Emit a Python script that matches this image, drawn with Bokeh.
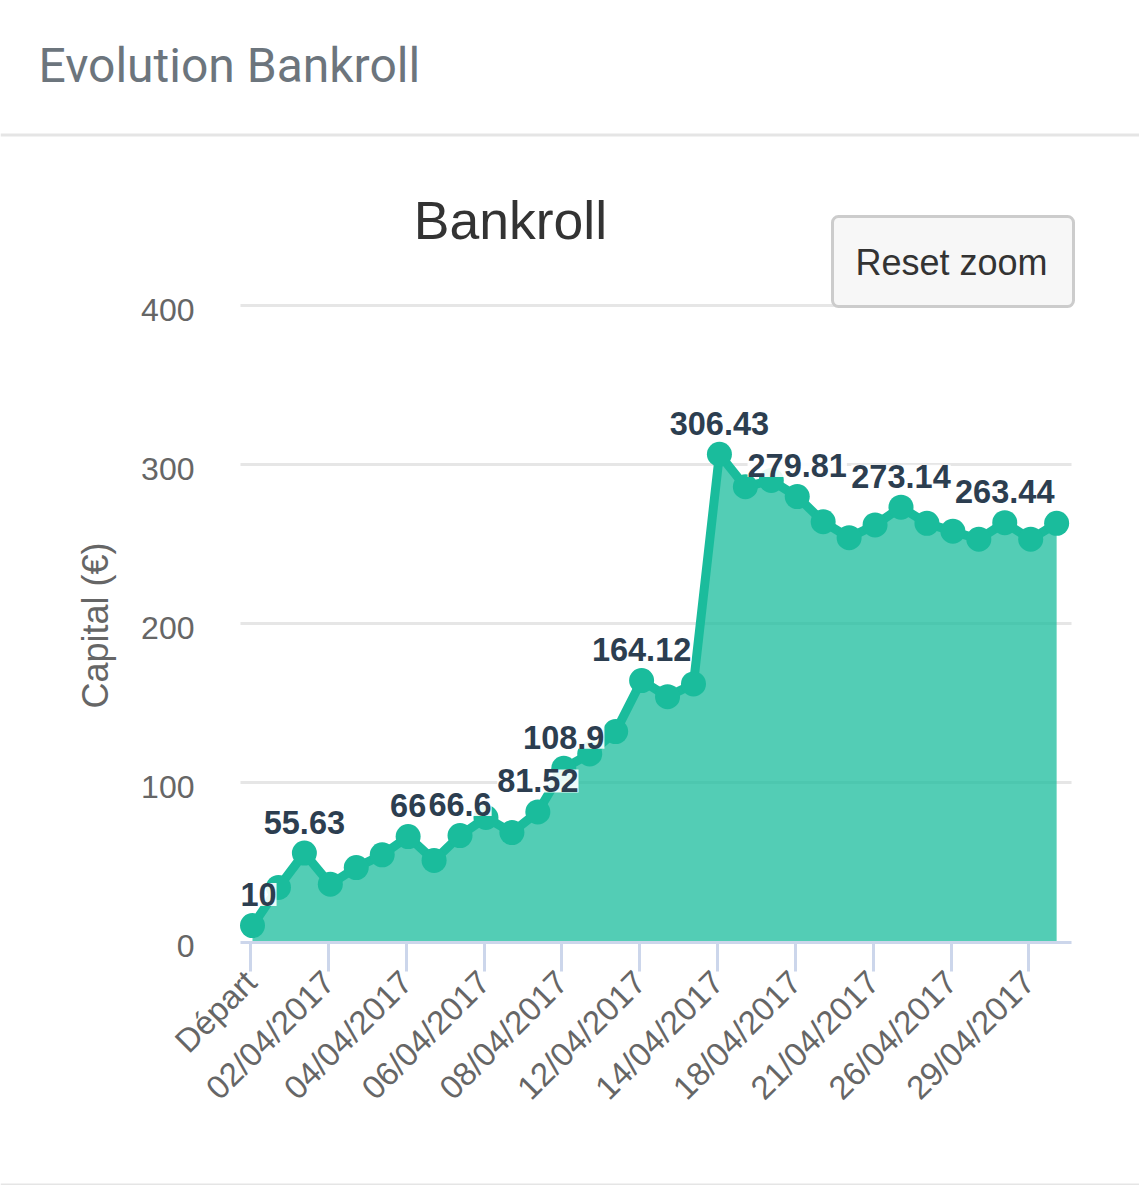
from math import pi
from bokeh.core.properties import value
from bokeh.embed import file_html
from bokeh.resources import INLINE
from bokeh.models import (BoxAnnotation, ColumnDataSource, FixedTicker, Label, LabelSet, LinearAxis, Range1d)
from bokeh.plotting import figure

capital = [10, 34, 55.63, 36, 46.5, 54.5, 66, 51, 66.6, 78, 68.5, 81.52,
           108.9, 118, 132, 164.12, 154, 162, 306.43, 286, 290, 279.81, 264, 254,
           262, 273.14, 263, 258, 253, 263.44, 253, 263]
labelled_points = [0, 2, 6, 8, 11, 12, 15, 18, 21, 25, 29]
label_texts = ["10", "55.63", "66", "66.6", "81.52", "108.9", "164.12",
               "306.43", "279.81", "273.14", "263.44"]
tick_points = [0, 3, 6, 9, 12, 15, 18, 21, 24, 27, 30]
tick_labels = ["Départ", "02/04/2017", "04/04/2017", "06/04/2017", "08/04/2017", "12/04/2017",
               "14/04/2017", "18/04/2017", "21/04/2017", "26/04/2017", "29/04/2017"]
y_ticks = [0, 100, 200, 300, 400]

TEAL = "#1abc9c"
W, H = 1139, 1185
X0_PX, DX_PX = 252.0, 25.94      # pixel of point 0, pixels per point
Y0_PX, DY_PX = 941.0, 1.59       # pixel of value 0, pixels per unit
def sy(py): return H - py

x_left = (240 - X0_PX) / DX_PX
x_right = (1071 - X0_PX) / DX_PX

xs = list(range(len(capital)))
p = figure(width=W, height=H, output_backend="svg", toolbar_location=None,
           x_range=Range1d(-X0_PX / DX_PX, (W - X0_PX) / DX_PX),
           y_range=Range1d((Y0_PX - H) / DY_PX, Y0_PX / DY_PX),
           x_axis_location=None, y_axis_location=None,
           min_border=0, background_fill_color="white", border_fill_color="white")
p.outline_line_color = None
p.grid.visible = False

# horizontal grid lines stop at the plot area, so they are drawn as segments
p.segment(x0=[x_left] * len(y_ticks[1:]), x1=[x_right] * len(y_ticks[1:]), y0=y_ticks[1:], y1=y_ticks[1:],
          line_color="#e6e6e6", line_width=3)

tick_shift = 0.07
shifted = [t - tick_shift for t in tick_points]
xaxis = LinearAxis(fixed_location=-0.6, bounds=(x_left, x_right), ticker=FixedTicker(ticks=shifted))
xaxis.major_label_overrides = {s: l for s, l in zip(shifted, tick_labels)}
xaxis.major_label_orientation = pi / 4
xaxis.axis_line_color = "#ccd6eb"
xaxis.axis_line_width = 3
xaxis.major_tick_line_color = "#ccd6eb"
xaxis.major_tick_line_width = 3
xaxis.major_tick_out = 29
xaxis.major_tick_in = 0
xaxis.minor_tick_line_color = None
xaxis.major_label_text_font = "Liberation Sans"
xaxis.major_label_text_font_size = "33px"
xaxis.major_label_text_color = "#666666"
xaxis.major_label_standoff = 5
p.add_layout(xaxis, "below")

# the labels sit a few pixels under their grid lines
label_shift = 2.6
y_shifted = [t - label_shift for t in y_ticks]
yaxis = LinearAxis(fixed_location=x_left, bounds=(-label_shift, 400), ticker=FixedTicker(ticks=y_shifted))
yaxis.major_label_overrides = {s: str(t) for s, t in zip(y_shifted, y_ticks)}
yaxis.axis_line_color = None
yaxis.major_tick_line_color = None
yaxis.minor_tick_line_color = None
yaxis.major_label_text_font = "Liberation Sans"
yaxis.major_label_text_font_size = "32px"
yaxis.major_label_text_color = "#666666"
yaxis.major_label_standoff = 40
yaxis.axis_label = "Capital (€)"
yaxis.axis_label_text_font = "Liberation Sans"
yaxis.axis_label_text_font_style = "normal"
yaxis.axis_label_text_font_size = "36px"
yaxis.axis_label_text_color = "#666666"
yaxis.axis_label_standoff = 22
p.add_layout(yaxis, "left")

p.varea(x=xs, y1=[0] * len(xs), y2=capital, fill_color=TEAL, fill_alpha=0.75)
p.line(xs, capital, line_color=TEAL, line_width=9, line_join="round")
p.scatter(xs, capital, size=25, fill_color=TEAL, line_color=TEAL, line_width=0)

label_src = ColumnDataSource(dict(
    x=labelled_points,
    y=[capital[i] for i in labelled_points],
    text=label_texts,
    dx=[6 if i == 0 else 0 for i in labelled_points],
))
p.add_layout(LabelSet(x="x", y="y", text="text", source=label_src,
                      x_offset="dx", y_offset=31,
                      text_font=value("Liberation Sans"), text_font_style="bold", text_font_size="32.5px",
                      text_color="#2c3e50", text_align="center", text_baseline="middle",
                      background_fill_color="white", background_fill_alpha=0.9))

# page furniture, placed in screen pixels
for top, bottom in [(133, 136), (1183, 1185)]:
    p.add_layout(BoxAnnotation(left=0, right=W, top=sy(top), bottom=sy(bottom),
                               left_units="screen", right_units="screen",
                               top_units="screen", bottom_units="screen",
                               fill_color="#e5e5e5", fill_alpha=1, line_color=None))
p.add_layout(BoxAnnotation(left=832, right=1073, top=sy(216), bottom=sy(306),
                           left_units="screen", right_units="screen",
                           top_units="screen", bottom_units="screen",
                           fill_color="#f7f7f7", fill_alpha=1,
                           line_color="#cccccc", line_alpha=1, line_width=3, border_radius=6))
p.add_layout(Label(x=951, y=sy(262), x_units="screen", y_units="screen", text="Reset zoom",
                   text_font="Liberation Sans", text_font_size="36px", text_color="#333333",
                   text_align="center", text_baseline="middle"))
p.add_layout(Label(x=510, y=sy(220), x_units="screen", y_units="screen", text="Bankroll",
                   text_font="Liberation Sans", text_font_size="53.5px", text_color="#333333",
                   text_align="center", text_baseline="middle"))
p.add_layout(Label(x=38, y=sy(65), x_units="screen", y_units="screen", text="Evolution Bankroll",
                   text_font="Roboto", text_font_size="48px", text_color="#6c757d",
                   text_align="left", text_baseline="middle"))

open("out.html", "w").write(file_html(p, INLINE))
